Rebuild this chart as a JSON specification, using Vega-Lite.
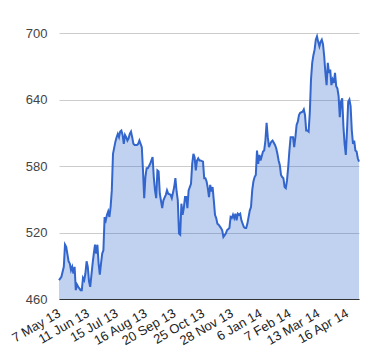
{
  "$schema": "https://vega.github.io/schema/vega-lite/v6.json",
  "width": 300,
  "height": 266,
  "autosize": {"type": "none"},
  "padding": {"left": 59, "top": 33, "right": 21, "bottom": 61},
  "background": "white",
  "config": {"view": {"stroke": null}, "font": "Liberation Sans"},
  "data": {"values": [
    {"i":0,"v":477},{"i":2,"v":480},{"i":4,"v":489},{"i":5,"v":509},{"i":6,"v":507},{"i":8,"v":494},{"i":9,"v":492},{"i":10,"v":486},{"i":11,"v":489},{"i":12,"v":483},{"i":13,"v":489},{"i":14,"v":468},{"i":15,"v":473},{"i":16,"v":471},{"i":18,"v":468},{"i":19,"v":468},{"i":20,"v":479},{"i":21,"v":477},{"i":22,"v":483},{"i":23,"v":494},{"i":24,"v":489},{"i":25,"v":476},{"i":26,"v":471},{"i":28,"v":492},{"i":29,"v":501},{"i":30,"v":509},{"i":31,"v":501},{"i":32,"v":509},{"i":33,"v":492},{"i":34,"v":482},{"i":35,"v":492},{"i":36,"v":501},{"i":37,"v":504},{"i":38,"v":534},{"i":39,"v":531},{"i":40,"v":536},{"i":41,"v":539},{"i":42,"v":534},{"i":43,"v":543},{"i":44,"v":558},{"i":45,"v":591},{"i":47,"v":602},{"i":48,"v":606},{"i":49,"v":609},{"i":50,"v":606},{"i":51,"v":611},{"i":52,"v":612},{"i":53,"v":608},{"i":54,"v":600},{"i":55,"v":608},{"i":56,"v":606},{"i":57,"v":603},{"i":58,"v":605},{"i":59,"v":609},{"i":60,"v":611},{"i":61,"v":606},{"i":62,"v":600},{"i":63,"v":599},{"i":65,"v":599},{"i":66,"v":600},{"i":67,"v":603},{"i":68,"v":600},{"i":69,"v":597},{"i":70,"v":576},{"i":71,"v":551},{"i":72,"v":570},{"i":73,"v":578},{"i":74,"v":578},{"i":76,"v":582},{"i":77,"v":585},{"i":78,"v":588},{"i":79,"v":570},{"i":80,"v":558},{"i":81,"v":551},{"i":82,"v":576},{"i":83,"v":575},{"i":84,"v":555},{"i":86,"v":542},{"i":87,"v":549},{"i":89,"v":554},{"i":90,"v":558},{"i":91,"v":555},{"i":93,"v":554},{"i":94,"v":551},{"i":96,"v":561},{"i":97,"v":569},{"i":98,"v":557},{"i":99,"v":549},{"i":100,"v":519},{"i":101,"v":518},{"i":102,"v":546},{"i":103,"v":536},{"i":104,"v":542},{"i":105,"v":552},{"i":106,"v":552},{"i":107,"v":542},{"i":108,"v":558},{"i":110,"v":564},{"i":111,"v":582},{"i":112,"v":591},{"i":113,"v":588},{"i":114,"v":576},{"i":115,"v":585},{"i":116,"v":587},{"i":117,"v":585},{"i":118,"v":585},{"i":120,"v":584},{"i":121,"v":569},{"i":122,"v":569},{"i":123,"v":566},{"i":124,"v":560},{"i":125,"v":552},{"i":126,"v":563},{"i":127,"v":557},{"i":128,"v":561},{"i":129,"v":549},{"i":130,"v":536},{"i":131,"v":533},{"i":132,"v":528},{"i":133,"v":527},{"i":135,"v":524},{"i":136,"v":522},{"i":137,"v":516},{"i":139,"v":519},{"i":140,"v":522},{"i":142,"v":524},{"i":143,"v":534},{"i":144,"v":533},{"i":145,"v":536},{"i":146,"v":533},{"i":147,"v":537},{"i":148,"v":531},{"i":149,"v":537},{"i":150,"v":536},{"i":151,"v":537},{"i":152,"v":531},{"i":154,"v":525},{"i":155,"v":524},{"i":156,"v":524},{"i":157,"v":528},{"i":159,"v":540},{"i":160,"v":543},{"i":161,"v":558},{"i":162,"v":566},{"i":163,"v":570},{"i":164,"v":572},{"i":165,"v":594},{"i":166,"v":582},{"i":167,"v":590},{"i":168,"v":585},{"i":170,"v":593},{"i":171,"v":594},{"i":172,"v":603},{"i":173,"v":619},{"i":174,"v":606},{"i":175,"v":597},{"i":176,"v":600},{"i":177,"v":602},{"i":178,"v":603},{"i":180,"v":599},{"i":181,"v":596},{"i":182,"v":591},{"i":183,"v":585},{"i":184,"v":581},{"i":185,"v":572},{"i":186,"v":570},{"i":187,"v":569},{"i":188,"v":561},{"i":189,"v":560},{"i":190,"v":567},{"i":191,"v":579},{"i":192,"v":594},{"i":193,"v":606},{"i":195,"v":606},{"i":196,"v":597},{"i":197,"v":606},{"i":198,"v":617},{"i":199,"v":620},{"i":200,"v":626},{"i":201,"v":628},{"i":203,"v":629},{"i":204,"v":631},{"i":205,"v":626},{"i":206,"v":612},{"i":207,"v":612},{"i":208,"v":611},{"i":209,"v":628},{"i":210,"v":658},{"i":211,"v":673},{"i":212,"v":680},{"i":213,"v":685},{"i":214,"v":694},{"i":215,"v":697},{"i":216,"v":692},{"i":217,"v":688},{"i":218,"v":692},{"i":219,"v":694},{"i":220,"v":690},{"i":221,"v":679},{"i":222,"v":664},{"i":223,"v":653},{"i":224,"v":673},{"i":225,"v":664},{"i":226,"v":667},{"i":227,"v":653},{"i":228,"v":658},{"i":229,"v":655},{"i":230,"v":664},{"i":231,"v":652},{"i":232,"v":650},{"i":233,"v":643},{"i":234,"v":624},{"i":235,"v":638},{"i":236,"v":641},{"i":237,"v":616},{"i":238,"v":600},{"i":239,"v":590},{"i":240,"v":612},{"i":241,"v":638},{"i":242,"v":640},{"i":243,"v":634},{"i":244,"v":612},{"i":245,"v":600},{"i":246,"v":603},{"i":247,"v":594},{"i":248,"v":593},{"i":249,"v":587},{"i":250,"v":584}
  ]},
  "encoding": {
    "x": {
      "field": "i", "type": "quantitative",
      "scale": {"domain": [0, 250], "nice": false, "zero": false},
      "axis": {
        "title": null,
        "values": [0, 24, 48, 72, 96, 120, 144, 168, 192, 216, 240],
        "labelExpr": "['7 May 13','11 Jun 13','15 Jul 13','16 Aug 13','20 Sep 13','25 Oct 13','28 Nov 13','6 Jan 14','7 Feb 14','13 Mar 14','16 Apr 14'][round(datum.value / 24)]",
        "labelAngle": -30,
        "labelAlign": "right",
        "labelBaseline": "middle",
        "labelPadding": 13,
        "labelFontSize": 13,
        "labelColor": "#222222",
        "labelOverlap": false,
        "labelBound": false,
        "ticks": false,
        "grid": false,
        "domainColor": "#333333",
        "domainWidth": 1
      }
    },
    "y": {
      "field": "v", "type": "quantitative",
      "scale": {"domain": [460, 700], "nice": false, "zero": false},
      "axis": {
        "title": null,
        "values": [460, 520, 580, 640, 700],
        "domain": false,
        "ticks": false,
        "grid": true,
        "gridColor": "#cccccc",
        "labelFontSize": 13,
        "labelColor": "#444444",
        "labelPadding": 12
      }
    }
  },
  "layer": [
    {"mark": {"type": "area", "color": "#3366cc", "opacity": 0.3}, "encoding": {"y2": {"datum": 460}}},
    {"mark": {"type": "line", "color": "#3366cc", "strokeWidth": 2}}
  ]
}
